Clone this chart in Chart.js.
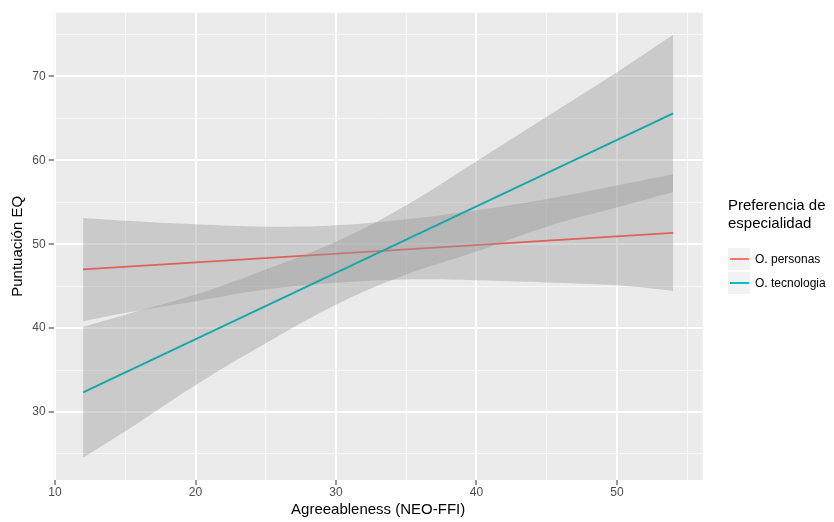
<!DOCTYPE html>
<html>
<head>
<meta charset="utf-8">
<script src="https://cdn.jsdelivr.net/npm/chart.js@4.4.0/dist/chart.umd.min.js"></script>
<style>
  body { margin: 0; background: #fff; font-family: "Liberation Sans", Arial, sans-serif; }
  #wrap { position: relative; width: 834px; height: 522px; }
  #leyenda { position: absolute; left: 728px; top: 196px; color: #000; }
  #leyenda .titulo { font-size: 15px; line-height: 17.7px; margin-bottom: 15px; }
  #leyenda .item { display: flex; align-items: center; height: 24.5px; }
  #leyenda .clave { position: relative; width: 22px; height: 22px; background: #F2F2F2; margin-right: 5px; }
  #leyenda .clave span { position: absolute; left: 1.5px; right: 1.5px; top: 10px; height: 2px; }
  #leyenda .texto { font-size: 12px; }
</style>
</head>
<body>
<div id="wrap">
  <canvas id="grafico" width="834" height="522"></canvas>
  <div id="leyenda">
    <div class="titulo">Preferencia de<br>especialidad</div>
  </div>
</div>
<script>
// Eje x donde se leen las bandas de confianza
const bandaX = [12, 15, 20, 25, 30, 35, 40, 45, 50, 54];
// Extremos de las rectas ajustadas
const lineaX = [12, 54];

// O. personas
const personasAjuste = [47.0, 51.35];
const personasSup = [53.13, 52.8, 52.38, 52.1, 52.26, 52.98, 54.05, 55.4, 57.0, 58.33];
const personasInf = [40.83, 41.8, 43.2, 44.6, 45.4, 45.8, 45.7, 45.45, 45.1, 44.44];

// O. tecnologia
const tecnologiaAjuste = [32.35, 65.6];
const tecnologiaSup = [40.16, 41.6, 44.0, 47.0, 50.3, 54.65, 59.9, 65.2, 70.5, 74.96];
const tecnologiaInf = [24.56, 27.7, 33.2, 38.2, 42.8, 46.4, 49.15, 52.1, 54.4, 56.23];

// Marcas de los ejes
const xMarcas = [10, 20, 30, 40, 50];
const xMenores = [15, 25, 35, 45, 55];
const yMarcas = [30, 40, 50, 60, 70];
const yMenores = [25, 35, 45, 55, 65, 75];

const series = ["O. personas", "O. tecnologia"];
const coloresLeyenda = ["#F8766D", "#00BFC4"];
const coloresLinea = ["#DC625B", "#15A7AA"];
const relleno = "rgba(153, 153, 153, 0.4)";
const fuente = "'Liberation Sans', Arial, sans-serif";

const puntos = (xs, ys) => xs.map((x, i) => ({ x: x, y: ys[i] }));

// Leyenda
const leyenda = document.getElementById("leyenda");
series.forEach((nombre, i) => {
  const item = document.createElement("div");
  item.className = "item";
  item.innerHTML =
    '<div class="clave"><span style="background:' + coloresLeyenda[i] + '"></span></div>' +
    '<div class="texto">' + nombre + "</div>";
  leyenda.appendChild(item);
});

// Fondo gris del panel
const fondoPanel = {
  id: "fondoPanel",
  beforeDraw(chart) {
    const { ctx, chartArea: a } = chart;
    ctx.save();
    ctx.fillStyle = "#EBEBEB";
    ctx.fillRect(a.left, a.top, a.right - a.left, a.bottom - a.top);
    ctx.restore();
  },
};

function ejeLineal(marcas, menores, min, max, titulo) {
  const esMayor = (c) => c.tick && marcas.includes(c.tick.value);
  return {
    type: "linear",
    min: min,
    max: max,
    afterBuildTicks: (s) => {
      s.ticks = marcas.concat(menores).sort((a, b) => a - b).map((v) => ({ value: v }));
    },
    border: { display: false },
    grid: {
      color: (c) => (esMayor(c) ? "#FFFFFF" : "#F7F7F7"),
      lineWidth: (c) => (esMayor(c) ? 2 : 1),
      tickColor: (c) => (esMayor(c) ? "#333333" : "rgba(0,0,0,0)"),
      tickLength: 5,
      tickWidth: 1,
    },
    ticks: {
      autoSkip: false,
      maxRotation: 0,
      color: "#4D4D4D",
      font: { family: fuente, size: 12 },
      callback: (v) => (marcas.includes(v) ? v : ""),
    },
    title: {
      display: true,
      text: titulo,
      color: "#000",
      font: { family: fuente, size: 15 },
    },
  };
}

const ejeX = ejeLineal(xMarcas, xMenores, 9.9, 56.1, "Agreeableness (NEO-FFI)");
ejeX.ticks.padding = 0;
ejeX.title.padding = { top: 0, bottom: 3 };
ejeX.afterFit = (s) => { s.height = 42; };

const ejeY = ejeLineal(yMarcas, yMenores, 21.9, 77.6, "Puntuación EQ");
ejeY.ticks.padding = 3;
ejeY.title.padding = { top: 9, bottom: 0 };
ejeY.afterFit = (s) => { s.width = 53.6; };

const banda = {
  borderColor: "rgba(0,0,0,0)",
  borderWidth: 0,
  pointRadius: 0,
  tension: 0.4,
};

new Chart(document.getElementById("grafico").getContext("2d"), {
  type: "line",
  data: {
    datasets: [
      { label: series[1], data: puntos(lineaX, tecnologiaAjuste), borderColor: coloresLinea[1], borderWidth: 1.8, pointRadius: 0, fill: false },
      { ...banda, label: "tec-sup", data: puntos(bandaX, tecnologiaSup), fill: "+1", backgroundColor: relleno },
      { ...banda, label: "tec-inf", data: puntos(bandaX, tecnologiaInf), fill: false },
      { label: series[0], data: puntos(lineaX, personasAjuste), borderColor: coloresLinea[0], borderWidth: 1.8, pointRadius: 0, fill: false },
      { ...banda, label: "per-sup", data: puntos(bandaX, personasSup), fill: "+1", backgroundColor: relleno },
      { ...banda, label: "per-inf", data: puntos(bandaX, personasInf), fill: false },
    ],
  },
  options: {
    responsive: false,
    animation: false,
    events: [],
    layout: { padding: { top: 12.7, right: 131.3, bottom: 0, left: 0 } },
    scales: { x: ejeX, y: ejeY },
    plugins: {
      legend: { display: false },
      tooltip: { enabled: false },
    },
  },
  plugins: [fondoPanel],
});
</script>
</body>
</html>
